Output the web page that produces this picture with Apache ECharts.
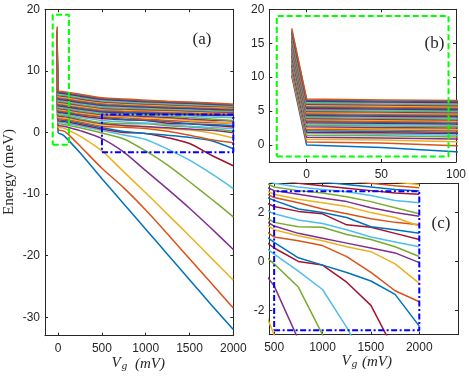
<!DOCTYPE html>
<html>
<head>
<meta charset="utf-8">
<script src="https://cdn.jsdelivr.net/npm/echarts@6/dist/echarts.min.js"></script>
<style>html,body{margin:0;padding:0;background:#fff}#c{width:469px;height:376px}</style>
</head>
<body>
<div id="c"></div>
<script>
// Gate voltage sample points (mV)
const Vg = [-10, 0, 50, 100, 250, 500, 750, 1000, 1250, 1500, 1750, 2000];
// Energy levels (meV), from lowest to highest at Vg = 0
const level01 = [10.2, 0.0, -0.35, -1.0, -3.3, -7.5, -11.6, -15.7, -19.8, -23.9, -28.0, -32.0];
const level02 = [10.5, 0.45, 0.3, -0.1, -2.2, -5.8, -9.0, -12.6, -16.5, -20.5, -24.5, -28.5];
const level03 = [10.8, 0.85, 0.75, 0.5, -0.6, -3.0, -6.4, -9.8, -13.3, -16.8, -20.4, -24.0];
const level04 = [11.1, 1.15, 1.05, 0.9, 0.3, -1.0, -3.2, -6.2, -9.2, -12.3, -15.6, -19.0];
const level05 = [11.4, 1.45, 1.35, 1.2, 0.75, -0.1, -1.05, -3.0, -5.3, -8.0, -10.8, -13.7];
const level06 = [11.6, 1.7, 1.6, 1.45, 1.05, 0.3, -0.4, -1.15, -2.7, -4.5, -6.7, -9.1];
const level07 = [11.8, 1.9, 1.8, 1.7, 1.3, 0.55, 0.0, -0.15, -0.85, -1.8, -3.7, -5.4];
const level08 = [12.0, 2.1, 2.0, 1.9, 1.5, 0.78, 0.15, -0.15, -0.45, -0.8, -1.35, -2.65];
const level09 = [12.2, 2.3, 2.2, 2.1, 1.7, 1.0, 0.85, 0.65, 0.2, -0.45, -1.2, -1.65];
const level10 = [12.4, 2.5, 2.4, 2.3, 1.9, 1.3, 1.05, 0.85, 0.6, 0.4, -0.1, -0.9];
const level11 = [12.6, 2.7, 2.6, 2.5, 2.05, 1.45, 1.15, 0.95, 0.75, 0.55, 0.35, -0.05];
const level12 = [12.8, 2.9, 2.8, 2.7, 2.2, 1.6, 1.42, 1.4, 1.1, 0.9, 0.6, 0.2];
const level13 = [13.0, 3.1, 3.0, 2.9, 2.45, 1.95, 1.7, 1.55, 1.3, 1.0, 0.8, 0.6];
const level14 = [13.2, 3.3, 3.2, 3.1, 2.7, 2.25, 2.05, 1.95, 1.5, 1.4, 1.15, 0.9];
const level15 = [13.4, 3.45, 3.35, 3.25, 2.9, 2.5, 2.15, 2.0, 1.8, 1.42, 1.3, 1.15];
const level16 = [13.6, 3.6, 3.5, 3.4, 3.05, 2.62, 2.4, 2.15, 1.95, 1.75, 1.6, 1.5];
const level17 = [13.8, 3.75, 3.65, 3.55, 3.2, 2.75, 2.55, 2.4, 2.25, 2.0, 1.8, 1.45];
const level18 = [13.95, 3.9, 3.8, 3.7, 3.35, 2.9, 2.75, 2.6, 2.45, 2.2, 2.0, 1.85];
const level19 = [14.1, 4.05, 3.95, 3.85, 3.5, 3.05, 2.9, 2.8, 2.65, 2.45, 2.2, 1.95];
const level20 = [14.25, 4.2, 4.1, 4.0, 3.65, 3.2, 3.05, 2.95, 2.85, 2.7, 2.5, 2.4];
const level21 = [14.4, 4.35, 4.25, 4.15, 3.8, 3.35, 3.2, 3.1, 3.0, 2.9, 2.8, 2.75];
const level22 = [14.55, 4.5, 4.4, 4.3, 3.95, 3.5, 3.35, 3.25, 3.15, 3.05, 2.95, 2.88];
const level23 = [14.7, 4.65, 4.55, 4.45, 4.1, 3.65, 3.5, 3.4, 3.3, 3.2, 3.1, 3.02];
const level24 = [14.85, 4.8, 4.7, 4.6, 4.25, 3.8, 3.65, 3.55, 3.45, 3.35, 3.25, 3.15];
const level25 = [15.0, 4.95, 4.85, 4.75, 4.4, 3.95, 3.8, 3.7, 3.6, 3.5, 3.38, 3.28];
const level26 = [15.15, 5.1, 5.0, 4.9, 4.55, 4.1, 3.95, 3.85, 3.72, 3.62, 3.5, 3.4];
const level27 = [15.3, 5.25, 5.15, 5.05, 4.7, 4.25, 4.1, 3.98, 3.85, 3.75, 3.62, 3.52];
const level28 = [15.45, 5.4, 5.3, 5.2, 4.85, 4.4, 4.25, 4.12, 3.98, 3.88, 3.75, 3.65];
const level29 = [15.6, 5.55, 5.45, 5.35, 5.0, 4.55, 4.38, 4.25, 4.12, 4.0, 3.88, 3.78];
const level30 = [15.75, 5.7, 5.6, 5.5, 5.15, 4.7, 4.52, 4.38, 4.25, 4.12, 4.0, 3.9];
const level31 = [15.9, 5.85, 5.75, 5.65, 5.3, 4.85, 4.66, 4.5, 4.38, 4.25, 4.12, 4.02];
const level32 = [16.05, 6.0, 5.9, 5.8, 5.45, 5.0, 4.8, 4.63, 4.5, 4.38, 4.25, 4.14];
const level33 = [16.2, 6.15, 6.05, 5.95, 5.6, 5.12, 4.92, 4.76, 4.62, 4.5, 4.37, 4.26];
const level34 = [16.4, 6.3, 6.2, 6.1, 5.75, 5.25, 5.05, 4.88, 4.74, 4.62, 4.48, 4.36];
const level35 = [16.6, 6.45, 6.35, 6.25, 5.9, 5.38, 5.18, 5.0, 4.86, 4.73, 4.58, 4.45];
const level36 = [16.9, 6.6, 6.5, 6.4, 6.05, 5.5, 5.3, 5.12, 4.97, 4.83, 4.68, 4.52];
const level37 = [17.2, 6.8, 6.65, 6.55, 6.2, 5.62, 5.42, 5.25, 5.08, 4.93, 4.78, 4.6];
const levels = [level01, level02, level03, level04, level05, level06, level07, level08, level09, level10,
  level11, level12, level13, level14, level15, level16, level17, level18, level19, level20,
  level21, level22, level23, level24, level25, level26, level27, level28, level29, level30,
  level31, level32, level33, level34, level35, level36, level37];

// Zoom boxes
const greenBoxA = {x: [-62, 123], y: [-2.0, 19.1]};
const greenBoxB = {x: [-20, 95], y: [-1.7, 19.0]};
const blueBoxA = {x: [500, 2000], y: [-3.2, 2.9]};
const blueBoxC = {x: [500, 2000], y: [-2.82, 2.87]};

// Tick labels
const ticksAx = [0, 500, 1000, 1500, 2000];
const ticksAy = [-30, -20, -10, 0, 10, 20];
const ticksBx = [0, 50, 100];
const ticksBy = [0, 5, 10, 15, 20];
const ticksCx = [500, 1000, 1500, 2000];
const ticksCy = [-2, 0, 2];

const colors = ['#0072BD', '#D95319', '#EDB120', '#7E2F8E', '#77AC30', '#4DBEEE', '#A2142F'];
const AX = '#262626';
const labelFont = {color: AX, fontSize: 12, fontFamily: '"Liberation Sans", Arial, sans-serif',
  formatter: function (v) { return String(v); }};

function mkX(grid, pos, min, max, ticks, showLabel) {
  return {
    type: 'value', gridIndex: grid, position: pos, min: min, max: max,
    axisLine: {show: true, onZero: false, lineStyle: {color: AX, width: 1}},
    axisTick: {show: true, inside: true, length: 3, customValues: ticks, lineStyle: {color: AX}},
    axisLabel: Object.assign({show: showLabel, customValues: ticks, margin: 7}, labelFont),
    splitLine: {show: false}
  };
}
function mkY(grid, pos, min, max, ticks, showLabel) {
  return {
    type: 'value', gridIndex: grid, position: pos, min: min, max: max,
    axisLine: {show: true, onZero: false, lineStyle: {color: AX, width: 1}},
    axisTick: {show: true, inside: true, length: 3, customValues: ticks, lineStyle: {color: AX}},
    axisLabel: Object.assign({show: showLabel, customValues: ticks, margin: 5}, labelFont),
    splitLine: {show: false}
  };
}

const series = [];
for (let g = 0; g < 3; g++) {
  levels.forEach((lv, k) => {
    series.push({
      type: 'line', xAxisIndex: 2 * g, yAxisIndex: 2 * g,
      data: Vg.map((v, i) => [v, lv[i]]),
      showSymbol: false, symbol: 'none', clip: true, silent: true,
      smooth: g === 0 ? 0.25 : false,
      lineStyle: {width: 1.5, color: colors[k % 7]},
      z: 2
    });
  });
}
function box(b, g, color, type) {
  return {
    type: 'line', xAxisIndex: 2 * g, yAxisIndex: 2 * g, clip: false, silent: true,
    showSymbol: false, symbol: 'none', z: 5,
    data: [[b.x[0], b.y[0]], [b.x[1], b.y[0]], [b.x[1], b.y[1]], [b.x[0], b.y[1]], [b.x[0], b.y[0]]],
    lineStyle: {width: 2, color: color, type: type}
  };
}
series.push(box(greenBoxA, 0, '#00FF00', [6, 3]));
series.push(box(greenBoxB, 1, '#00FF00', [6, 3]));
series.push(box(blueBoxA, 0, '#0000FF', [6, 2.5, 2, 2.5]));
series.push(box(blueBoxC, 2, '#0000FF', [6, 2.5, 2, 2.5]));

const serif = '"Liberation Serif", "Times New Roman", serif';
function txt(x, y, s, size, italic, align, rot) {
  return {
    type: 'text', x: x, y: y, rotation: rot || 0, silent: true, z: 10,
    style: {text: s, fill: AX, font: (italic ? 'italic ' : '') + size + 'px ' + serif,
      align: align || 'center', verticalAlign: 'middle'}
  };
}

const option = {
  backgroundColor: '#fff',
  animation: false,
  grid: [
    {left: 45, top: 9.3, width: 188.3, height: 326.4},
    {left: 269.3, top: 9.3, width: 188.7, height: 152.7},
    {left: 269.3, top: 183.3, width: 188.7, height: 151.4}
  ],
  xAxis: [
    mkX(0, 'bottom', -150, 2000, ticksAx, true),
    mkX(0, 'top', -150, 2000, ticksAx, false),
    mkX(1, 'bottom', -25, 100, ticksBx, true),
    mkX(1, 'top', -25, 100, ticksBx, false),
    mkX(2, 'bottom', 450, 2400, ticksCx, true),
    mkX(2, 'top', 450, 2400, ticksCx, false)
  ],
  yAxis: [
    mkY(0, 'left', -33, 20, ticksAy, true),
    mkY(0, 'right', -33, 20, ticksAy, false),
    mkY(1, 'left', -2.5, 20, ticksBy, true),
    mkY(1, 'right', -2.5, 20, ticksBy, false),
    mkY(2, 'left', -3, 3.2, ticksCy, true),
    mkY(2, 'right', -3, 3.2, ticksCy, false)
  ],
  series: series,
  graphic: [
    txt(9, 172, 'Energy (meV)', 15, false, 'center', Math.PI / 2),
    txt(202, 40, '(a)', 17, false),
    txt(434.5, 44, '(b)', 17, false),
    txt(441, 224, '(c)', 17, false),
    // x titles
    txt(116, 363, 'V', 15, true),
    txt(124.5, 366.5, 'g', 11, true),
    txt(150, 364, '(mV)', 15, true),
    txt(346, 361, 'V', 15, true),
    txt(354.5, 364.5, 'g', 11, true),
    txt(377, 362, '(mV)', 15, true)
  ]
};
const chart = echarts.init(document.getElementById('c'), null, {renderer: 'canvas'});
chart.setOption(option);
</script>
</body>
</html>
